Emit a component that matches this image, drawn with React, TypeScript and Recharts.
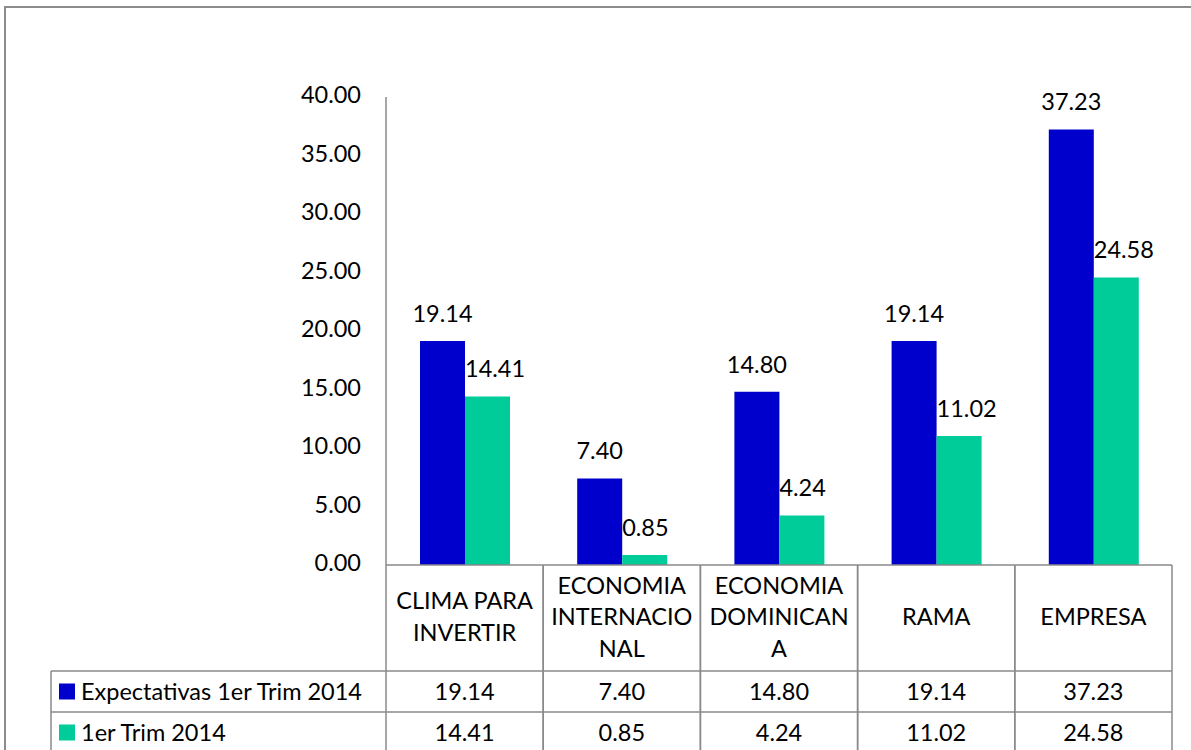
import React from "react";
import { BarChart, Bar, XAxis, YAxis, LabelList } from "recharts";

// ---- data ----
const categories = [
  "CLIMA PARA INVERTIR",
  "ECONOMIA INTERNACIONAL",
  "ECONOMIA DOMINICANA",
  "RAMA",
  "EMPRESA",
];
const categoryLines = [
  ["CLIMA PARA", "INVERTIR"],
  ["ECONOMIA", "INTERNACIO", "NAL"],
  ["ECONOMIA", "DOMINICAN", "A"],
  ["RAMA"],
  ["EMPRESA"],
];
const expectativas = [19.14, 7.4, 14.8, 19.14, 37.23];
const trim2014 = [14.41, 0.85, 4.24, 11.02, 24.58];
const seriesNames = ["Expectativas 1er Trim 2014", "1er Trim 2014"];
const yTicks = [0, 5, 10, 15, 20, 25, 30, 35, 40];

const data = categories.map((name, i) => ({
  name,
  idx: i,
  exp: expectativas[i],
  trim: trim2014[i],
}));

// ---- style / layout ----
const W = 1191;
const H = 750;
const FONT = "Lato, 'Open Sans', sans-serif";
const FS = 23.5;
const BLUE = "#0000CC";
const GREEN = "#00CC99";
const GRID = "#8a8a8a";
const MARGIN = { top: 97, right: 19, left: 0, bottom: 0 };
const YAXIS_W = 386;
const XAXIS_H = 185;
const PLOT_W = W - MARGIN.left - MARGIN.right - YAXIS_W;
const CAT_H = 106;
const ROW_H = 41;
const LEGEND_LEFT = 51;

const fmt = (v: number) => Number(v).toFixed(2);

const TableTick = (props: any) => {
  const { x, y, payload, index } = props;
  const n = categories.length;
  const cellW = PLOT_W / n;
  const left = x - cellW / 2;
  const right = x + cellW / 2;
  const i = payload && typeof payload.index === "number" ? payload.index : index;
  const lines = categoryLines[i] || [String(payload.value)];
  const lh = 31.5;
  const center = y + 52;
  const start = center - ((lines.length - 1) * lh) / 2;
  const bottom = y + CAT_H + ROW_H * 2;
  const r1 = y + CAT_H;
  const r2 = y + CAT_H + ROW_H;
  const textProps = {
    fontFamily: FONT,
    fontSize: FS,
    fill: "#000",
  };
  return (
    <g>
      <line x1={left} y1={y} x2={left} y2={bottom} stroke={GRID} strokeWidth={1.5} />
      <line x1={right} y1={y} x2={right} y2={bottom} stroke={GRID} strokeWidth={1.5} />
      <line x1={left} y1={r1} x2={right} y2={r1} stroke={GRID} strokeWidth={1.5} />
      <line x1={left} y1={r2} x2={right} y2={r2} stroke={GRID} strokeWidth={1.5} />
      <line x1={left} y1={bottom} x2={right} y2={bottom} stroke={GRID} strokeWidth={1.5} />
      {lines.map((t, k) => (
        <text key={k} x={x} y={start + k * lh + 8} textAnchor="middle" {...textProps}>
          {t}
        </text>
      ))}
      <text x={x} y={r1 + ROW_H / 2 + 8} textAnchor="middle" {...textProps}>
        {fmt(expectativas[i])}
      </text>
      <text x={x} y={r2 + ROW_H / 2 + 8} textAnchor="middle" {...textProps}>
        {fmt(trim2014[i])}
      </text>
      {i === 0 && (
        <g>
          <line x1={LEGEND_LEFT} y1={r1} x2={left} y2={r1} stroke={GRID} strokeWidth={1.5} />
          <line x1={LEGEND_LEFT} y1={r2} x2={left} y2={r2} stroke={GRID} strokeWidth={1.5} />
          <line x1={LEGEND_LEFT} y1={bottom} x2={left} y2={bottom} stroke={GRID} strokeWidth={1.5} />
          <line x1={LEGEND_LEFT} y1={r1} x2={LEGEND_LEFT} y2={bottom} stroke={GRID} strokeWidth={1.5} />
          <rect x={59} y={r1 + ROW_H / 2 - 8} width={16} height={16} fill={BLUE} />
          <rect x={59} y={r2 + ROW_H / 2 - 8} width={16} height={16} fill={GREEN} />
          <text x={81} y={r1 + ROW_H / 2 + 8} textAnchor="start" {...textProps}>
            {seriesNames[0]}
          </text>
          <text x={81} y={r2 + ROW_H / 2 + 8} textAnchor="start" {...textProps}>
            {seriesNames[1]}
          </text>
        </g>
      )}
    </g>
  );
};

const BlueLabel = (p: any) => (
  <text
    x={p.x + p.width / 2}
    y={p.y - 19}
    textAnchor="middle"
    fontFamily={FONT}
    fontSize={FS}
    fill="#000"
  >
    {fmt(p.value)}
  </text>
);

const GreenLabel = (p: any) => (
  <text
    x={p.x}
    y={p.y - 19}
    textAnchor="start"
    fontFamily={FONT}
    fontSize={FS}
    fill="#000"
  >
    {fmt(p.value)}
  </text>
);

export default function App() {
  return (
    <div
      style={{
        position: "absolute",
        left: 0,
        top: 0,
        width: W,
        height: H,
        overflow: "hidden",
        background: "#fff",
      }}
    >
      <div
        style={{
          position: "absolute",
          left: 4,
          top: 6,
          width: W + 50,
          height: H + 50,
          border: "2px solid #8c8c8c",
          boxSizing: "border-box",
        }}
      />
      <div style={{ position: "absolute", left: 0, top: 0 }}>
        <BarChart
          width={W}
          height={H}
          data={data}
          margin={MARGIN}
          barCategoryGap={34}
          barGap={0}
        >
          <YAxis
            width={YAXIS_W}
            domain={[0, 40]}
            ticks={yTicks}
            interval={0}
            tickFormatter={fmt}
            axisLine={{ stroke: GRID, strokeWidth: 1.5 }}
            tickLine={false}
            tickSize={0}
            tickMargin={25}
            tick={{ fill: "#000", fontSize: FS, fontFamily: FONT, dy: -2 }}
          />
          <XAxis
            dataKey="name"
            height={XAXIS_H}
            interval={0}
            axisLine={{ stroke: GRID, strokeWidth: 1.5 }}
            tickLine={false}
            tickSize={0}
            tickMargin={0}
            tick={<TableTick />}
          />
          <Bar dataKey="exp" fill={BLUE} isAnimationActive={false}>
            <LabelList dataKey="exp" content={<BlueLabel />} />
          </Bar>
          <Bar dataKey="trim" fill={GREEN} isAnimationActive={false}>
            <LabelList dataKey="trim" content={<GreenLabel />} />
          </Bar>
        </BarChart>
      </div>
    </div>
  );
}
